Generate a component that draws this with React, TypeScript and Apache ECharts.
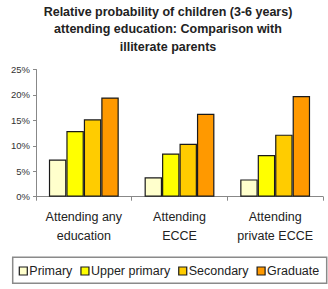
import React, { useEffect, useRef } from "react";
import * as echarts from "echarts";

const titleLines = [
  "Relative probability of children (3-6 years)",
  "attending education: Comparison with",
  "illiterate parents",
];
const categories = ["Attending any\neducation", "Attending\nECCE", "Attending\nprivate ECCE"];
const seriesNames = ["Primary", "Upper primary", "Secondary", "Graduate"];
const primary = [7.3, 3.8, 3.4];
const upperPrimary = [12.9, 8.5, 8.2];
const secondary = [15.2, 10.4, 12.2];
const graduate = [19.5, 16.3, 19.8];
const seriesColors = ["#FFFFCC", "#FFFF00", "#FFCC00", "#FF9900"];
const yTicks = [0, 5, 10, 15, 20, 25];

const FONT = "'Liberation Sans', Arial, sans-serif";

export default function App() {
  const ref = useRef<HTMLDivElement>(null);
  useEffect(() => {
    if (!ref.current) return;
    const chart = echarts.init(ref.current, undefined, { renderer: "svg" });
    const values = [primary, upperPrimary, secondary, graduate];
    chart.setOption({
      animation: false,
      textStyle: { fontFamily: FONT },
      graphic: [
        {
          type: "text",
          x: 168,
          y: 3,
          style: {
            text: titleLines.join("\n"),
            font: `bold 12.5px ${FONT}`,
            fill: "#222",
            textAlign: "center",
            textVerticalAlign: "top",
            lineHeight: 17.5,
          },
        },
        {
          type: "rect",
          shape: { x: 12.7, y: 257.3, width: 314, height: 26 },
          style: { fill: "none", stroke: "#8a8a8a", lineWidth: 1.5 },
          z: 0,
        },
      ],
      legend: {
        left: 18.7,
        top: 264.5,
        padding: 0,
        itemGap: 8,
        itemWidth: 8,
        itemHeight: 8,
        icon: "rect",
        itemStyle: { borderColor: "#1a1a1a", borderWidth: 1.2 },
        textStyle: { fontFamily: FONT, fontSize: 12.5, color: "#222", padding: [0, 0, 0, -3] },
        data: seriesNames,
      },
      grid: { left: 36, right: 5, top: 69.5, bottom: 92.3 },
      xAxis: {
        type: "category",
        data: categories,
        axisLine: { lineStyle: { color: "#888", width: 1 } },
        axisTick: { show: true, length: 4, lineStyle: { color: "#888" } },
        axisLabel: {
          fontFamily: FONT,
          fontSize: 12.5,
          color: "#222",
          lineHeight: 19,
          margin: 11,
          interval: 0,
        },
      },
      yAxis: {
        type: "value",
        min: yTicks[0],
        max: yTicks[yTicks.length - 1],
        interval: 5,
        axisLine: { show: true, lineStyle: { color: "#888", width: 1 } },
        axisTick: { show: true, length: 3, lineStyle: { color: "#888" } },
        splitLine: { show: false },
        axisLabel: {
          fontFamily: FONT,
          fontSize: 9.5,
          color: "#333",
          margin: 6,
          formatter: "{value}%",
        },
      },
      series: seriesNames.map((name, i) => ({
        name,
        type: "bar",
        data: values[i],
        barGap: "0%",
        barCategoryGap: "27%",
        itemStyle: {
          color: seriesColors[i],
          borderColor: "#1a1a1a",
          borderWidth: 1.2,
        },
      })),
    });
    return () => chart.dispose();
  }, []);
  return (
    <div
      ref={ref}
      style={{ position: "fixed", left: 0, top: 0, width: 328, height: 289, background: "#fff" }}
    />
  );
}
